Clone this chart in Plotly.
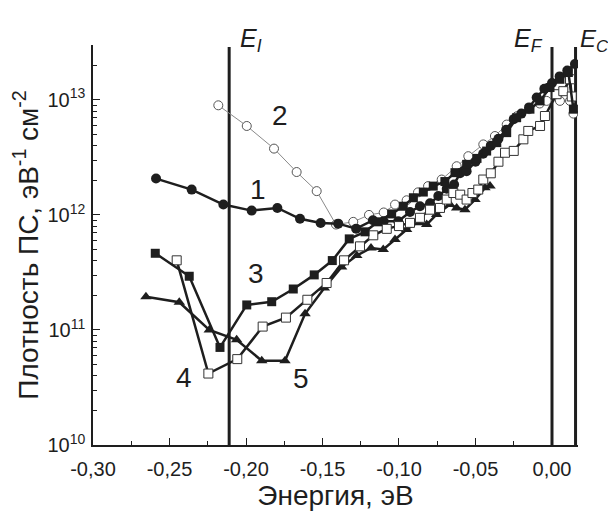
import math
import plotly.graph_objects as go

# ---- data ----
e1 = [-0.2588, -0.2355, -0.2148, -0.1963, -0.1795, -0.1647, -0.1512, -0.1397, -0.1280, -0.1170,
      -0.1100, -0.1005, -0.0928, -0.0863, -0.0797, -0.0743, -0.0688, -0.0640, -0.0601, -0.0558,
      -0.0500, -0.0450, -0.0400, -0.0350, -0.0300, -0.0250, -0.0200, -0.0150, -0.0100, -0.0050,
      0.0000, 0.0050, 0.0100, 0.0150]
n1 = [2.07e12, 1.66e12, 1.23e12, 1.09e12, 1.15e12, 9.25e11, 8.5e11, 8.4e11, 7.6e11, 9.0e11,
      8.8e11, 8.8e11, 1.06e12, 1.19e12, 1.26e12, 1.46e12, 1.69e12, 1.84e12, 2.3e12, 2.4e12,
      2.9e12, 3.4e12, 4.0e12, 4.6e12, 5.5e12, 6.8e12, 7.6e12, 8.6e12, 1.05e13, 1.25e13,
      1.4e13, 1.6e13, 1.8e13, 2.05e13]

e2 = [-0.2181, -0.1995, -0.1817, -0.1669, -0.1538, -0.1412, -0.1299, -0.1196, -0.1100, -0.1026,
      -0.0950, -0.0876, -0.0810, -0.0721, -0.0623, -0.0547, -0.0449, -0.0373, -0.0296, -0.0230,
      -0.0150, -0.0080, -0.0035, 0.0052, 0.0118, 0.0140]
n2 = [8.97e12, 5.93e12, 3.77e12, 2.36e12, 1.61e12, 8.25e11, 8.7e11, 1.0e12, 1.05e12, 1.23e12,
      1.34e12, 1.57e12, 1.78e12, 2.03e12, 2.65e12, 3.24e12, 4.1e12, 4.85e12, 6.1e12, 7.2e12,
      8.3e12, 9.3e12, 9.8e12, 9.8e12, 9.8e12, 7.6e12]

e3 = [-0.2593, -0.2371, -0.2170, -0.1995, -0.1832, -0.1691, -0.1554, -0.1436, -0.1325, -0.1222,
      -0.1139, -0.1048, -0.0972, -0.0906, -0.0841, -0.0776, -0.0700, -0.0634, -0.0558, -0.0490,
      -0.0427, -0.0361, -0.0296, -0.0231, -0.0144, -0.0078, -0.0013, 0.0052, 0.0107, 0.0140]
n3 = [4.64e11, 2.93e11, 7.05e10, 1.65e11, 1.76e11, 2.27e11, 3.01e11, 4.01e11, 6.19e11, 7.13e11,
      8.71e11, 1.02e12, 1.19e12, 1.41e12, 1.58e12, 1.78e12, 1.95e12, 2.33e12, 2.75e12, 3.1e12,
      3.59e12, 4.25e12, 5.19e12, 7.0e12, 8.3e12, 9.8e12, 1.28e13, 1.51e13, 1.73e13, 8.3e12]

e4 = [-0.2453, -0.2246, -0.2057, -0.1891, -0.1739, -0.1599, -0.1473, -0.1359, -0.1255, -0.1168,
      -0.1080, -0.1000, -0.0928, -0.0863, -0.0797, -0.0732, -0.0688, -0.0645, -0.0600, -0.0558,
      -0.0520, -0.0482, -0.0449, -0.0400, -0.0350, -0.0307, -0.0250, -0.0187, -0.0155, -0.0078,
      -0.0046, 0.0030, 0.0074, 0.0118, 0.0129]
n4 = [4.03e11, 4.18e10, 5.58e10, 1.07e11, 1.28e11, 1.83e11, 2.56e11, 4.03e11, 5.33e11, 6.65e11,
      7.57e11, 8.0e11, 8.53e11, 9.44e11, 1.11e12, 1.15e12, 1.36e12, 1.55e12, 1.5e12, 1.36e12,
      1.55e12, 1.66e12, 2.03e12, 2.3e12, 2.9e12, 3.47e12, 3.6e12, 4.54e12, 5.37e12, 5.93e12,
      7.24e12, 1.12e13, 1.19e13, 1.51e13, 1.07e13]

e5 = [-0.2654, -0.2436, -0.2240, -0.2061, -0.1897, -0.1745, -0.1614, -0.1488, -0.1375, -0.1276,
      -0.1183, -0.1103, -0.1026, -0.0950, -0.0884, -0.0819, -0.0754, -0.0667, -0.0623, -0.0569,
      -0.0503, -0.0438, -0.0405]
n5 = [1.94e11, 1.74e11, 1.0e11, 8.22e10, 5.4e10, 5.4e10, 1.38e11, 2.32e11, 3.53e11, 4.43e11,
      5.16e11, 5.0e11, 6.11e11, 7.46e11, 8.53e11, 8.24e11, 1.01e12, 1.23e12, 1.15e12, 1.11e12,
      1.36e12, 1.72e12, 1.78e12]

level_names = ["<i>E<sub>I</sub></i>", "<i>E<sub>F</sub></i>", "<i>E<sub>C</sub></i>"]
level_energies = [-0.211, 0.0, 0.0154]

x_tick_vals = [-0.30, -0.25, -0.20, -0.15, -0.10, -0.05, 0.00]
x_tick_text = ["-0,30", "-0,25", "-0,20", "-0,15", "-0,10", "-0,05", "0,00"]
y_tick_vals = [1e10, 1e11, 1e12, 1e13]
y_tick_text = ["10<sup>10</sup>", "10<sup>11</sup>", "10<sup>12</sup>", "10<sup>13</sup>"]

curve_labels = ["1", "2", "3", "4", "5"]
curve_label_x = [-0.1922, -0.1778, -0.1937, -0.2405, -0.1643]
curve_label_y = [1.66e12, 7.35e12, 3.1e11, 3.84e10, 3.76e10]

FONT = "Arial, Liberation Sans, sans-serif"
INK = "#1e1e1e"

fig = go.Figure()

# vertical level lines
for xe in level_energies:
    fig.add_shape(type="line", xref="x", yref="paper", x0=xe, x1=xe, y0=0, y1=0.995,
                  line=dict(color=INK, width=3), layer="below")

# curve 2 (open circles, thin grey line)
fig.add_trace(go.Scatter(x=e2, y=n2, mode="lines+markers",
                         line=dict(color="#8a8a8a", width=1),
                         marker=dict(symbol="circle", size=9, color="white",
                                     line=dict(color="#555555", width=1)),
                         showlegend=False))
# curve 1 (filled circles)
fig.add_trace(go.Scatter(x=e1, y=n1, mode="lines+markers",
                         line=dict(color=INK, width=2.5),
                         marker=dict(symbol="circle", size=10, color=INK),
                         showlegend=False))
# curve 5 (filled triangles)
fig.add_trace(go.Scatter(x=e5, y=n5, mode="lines+markers",
                         line=dict(color=INK, width=2.5),
                         marker=dict(symbol="triangle-up", size=10, color=INK),
                         showlegend=False))
# curve 4 (open squares)
fig.add_trace(go.Scatter(x=e4, y=n4, mode="lines+markers",
                         line=dict(color=INK, width=2.5),
                         marker=dict(symbol="square", size=9, color="white",
                                     line=dict(color="#333333", width=1)),
                         showlegend=False))
# curve 3 (filled squares)
fig.add_trace(go.Scatter(x=e3, y=n3, mode="lines+markers",
                         line=dict(color=INK, width=2.5),
                         marker=dict(symbol="square", size=9, color=INK),
                         showlegend=False))

for lab, lx, ly in zip(curve_labels, curve_label_x, curve_label_y):
    fig.add_annotation(x=lx, y=math.log10(ly), xref="x", yref="y", text=lab, showarrow=False,
                       xanchor="center", yanchor="middle",
                       font=dict(family=FONT, size=28, color=INK))

label_anchor = ["left", "right", "left"]
label_shift = [10, -8, 3]
label_size = [25, 25, 24]
for name, xe, anc, sh, fs in zip(level_names, level_energies, label_anchor, label_shift, label_size):
    fig.add_annotation(x=xe, y=1.0, xref="x", yref="paper", text=name, showarrow=False,
                       xanchor=anc, yanchor="bottom", xshift=sh, yshift=-12, borderpad=0,
                       font=dict(family=FONT, size=fs, color=INK))

# page body has an 8px margin: figure is sized so it ends at the window edge
fig.update_layout(
    width=608, height=508,
    margin=dict(l=85, r=38, t=37, b=71),
    paper_bgcolor="white", plot_bgcolor="white",
    font=dict(family=FONT, color=INK),
    xaxis=dict(range=[-0.30, 0.017], showgrid=False, zeroline=False, automargin=False,
               showline=True, linecolor=INK, linewidth=1.5,
               ticks="inside", ticklen=7, tickwidth=1.2, tickcolor=INK,
               tickvals=x_tick_vals, ticktext=x_tick_text,
               tickfont=dict(size=20, family=FONT), ticklabelstandoff=5,
               minor=dict(dtick=0.025, tick0=0, ticks="inside", ticklen=4, tickcolor=INK, showgrid=False),
               title=dict(text="Энергия, эВ", font=dict(size=28, family=FONT), standoff=2)),
    yaxis=dict(type="log", range=[10, 13.477], showgrid=False, zeroline=False, automargin=False,
               showline=True, linecolor=INK, linewidth=1.5,
               ticks="inside", ticklen=7, tickwidth=1.2, tickcolor=INK,
               tickvals=y_tick_vals, ticktext=y_tick_text,
               tickfont=dict(size=20, family=FONT), ticklabelstandoff=2,
               minor=dict(dtick="D1", ticks="inside", ticklen=4, tickcolor=INK, showgrid=False),
               title=dict(text="Плотность ПС, эВ<sup>-1</sup> см<sup>-2</sup>",
                          font=dict(size=28, family=FONT), standoff=3)),
)

fig.write_html("out.html")
